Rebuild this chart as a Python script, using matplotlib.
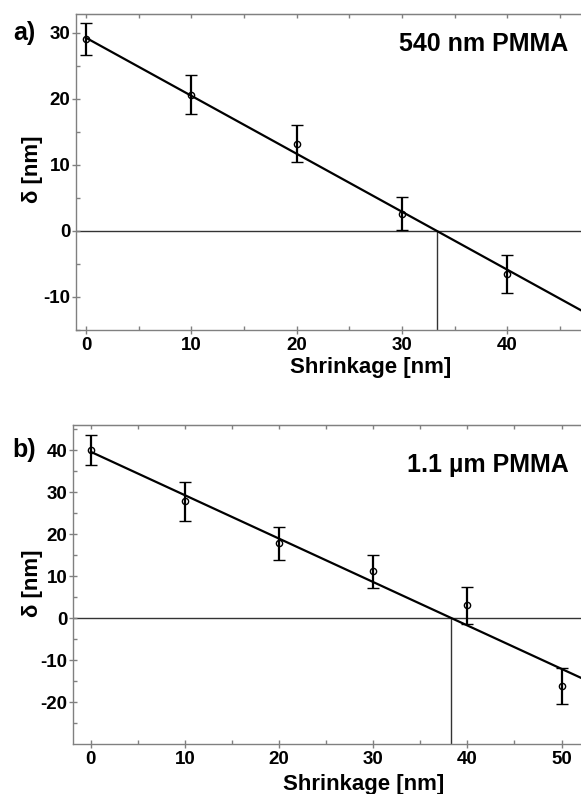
import matplotlib.pyplot as plt
import numpy as np

plt.rcParams['font.family'] = ['Liberation Sans', 'DejaVu Sans']
plt.rcParams['font.weight'] = 'bold'
plt.rcParams['axes.unicode_minus'] = False

# panel a) 540 nm PMMA
shrink_a = [0, 10, 20, 30, 40]
delta_a = [29.0, 20.6, 13.2, 2.6, -6.5]
err_a = [2.4, 3.0, 2.8, 2.5, 2.9]
fit_a = [29.2, -0.877]   # intercept, slope

# panel b) 1.1 um PMMA
shrink_b = [0, 10, 20, 30, 40, 50]
delta_b = [40.0, 27.8, 17.8, 11.1, 3.0, -16.2]
err_b = [3.5, 4.7, 4.0, 4.0, 4.4, 4.2]
fit_b = [39.6, -1.034]

W, H = 581, 794
fig = plt.figure(figsize=(W / 100, H / 100), dpi=100)
GRAY = '#808080'


def make_panel(rect, x, y, e, fit, xlim, ylim, xticks, yticks, title, title_y,
               letter, letter_xy, xlab_xy, ylab_xy):
    ax = fig.add_axes(rect)
    ax.set_xlim(xlim)
    ax.set_ylim(ylim)

    # zero line and root marker
    ax.axhline(0, color='#333333', lw=1.0, zorder=1)
    root = -fit[0] / fit[1]
    ax.plot([root, root], [ylim[0], 0], color='#333333', lw=1.0, zorder=1)

    # linear fit, drawn from the first point to the right edge
    xx = np.array([x[0], xlim[1]])
    ax.plot(xx, fit[0] + fit[1] * xx, color='black', lw=1.6, zorder=2)

    ax.errorbar(x, y, yerr=e, fmt='o', ms=4.5, mfc='none', mec='black', mew=1.0,
                ecolor='black', elinewidth=1.6, capsize=4, capthick=1.6, zorder=3)

    for s in ['left', 'bottom', 'top']:
        ax.spines[s].set_color(GRAY)
        ax.spines[s].set_linewidth(1.0)
    ax.spines['right'].set_visible(False)

    minor_x = np.arange(xticks[0] + 5, xlim[1], 10)
    ax.set_xticks(xticks)
    ax.set_xticks(minor_x, minor=True)
    ax.set_yticks(yticks)
    ax.set_yticks(np.arange(yticks[0] - 5, ylim[1], 10), minor=True)
    ax.tick_params(axis='both', which='major', color=GRAY, labelsize=13.5,
                   width=1.0, length=6, direction='inout')
    ax.tick_params(axis='both', which='minor', color=GRAY, width=1.0,
                   length=3, direction='in')
    ax.tick_params(axis='x', which='major', pad=2)
    ax.tick_params(axis='y', which='major', pad=1)
    for lab in ax.get_xticklabels() + ax.get_yticklabels():
        lab.set_fontweight('bold')

    # inward ticks on the top frame
    top = ax.secondary_xaxis('top')
    top.set_xticks(xticks)
    top.set_xticks(minor_x, minor=True)
    top.tick_params(which='both', direction='in', length=3, color=GRAY,
                    width=1.0, labeltop=False)
    top.spines['top'].set_color(GRAY)

    ax.set_xlabel('Shrinkage [nm]', fontsize=16, fontweight='bold')
    ax.xaxis.set_label_coords(*xlab_xy)
    ax.set_ylabel('δ [nm]', fontsize=16, fontweight='bold')
    ax.yaxis.set_label_coords(*ylab_xy)

    ax.text(0.975, title_y, title, transform=ax.transAxes, ha='right', va='center',
            fontsize=18, fontweight='bold')
    fig.text(letter_xy[0], letter_xy[1], letter, ha='left', va='center',
             fontsize=18, fontweight='bold')
    return ax


make_panel([76 / W, 1 - 330 / H, (W - 76) / W, 316 / H],
           shrink_a, delta_a, err_a, fit_a, (-0.95, 47.0), (-15.0, 32.8),
           [0, 10, 20, 30, 40], [-10, 0, 10, 20, 30],
           '540 nm PMMA', (330 - 44) / 316,
           'a)', (13 / W, 1 - 33 / H), (0.584, -0.085), (-0.066, 0.51))

make_panel([73 / W, 1 - 744 / H, (W - 73) / W, 319 / H],
           shrink_b, delta_b, err_b, fit_b, (-1.9, 52.07), (-30.0, 46.0),
           [0, 10, 20, 30, 40, 50], [-20, -10, 0, 10, 20, 30, 40],
           '1.1 µm PMMA', (744 - 465) / 319,
           'b)', (12 / W, 1 - 450 / H), (0.573, -0.095), (-0.06, 0.505))

fig.savefig('out.png', dpi=100)
